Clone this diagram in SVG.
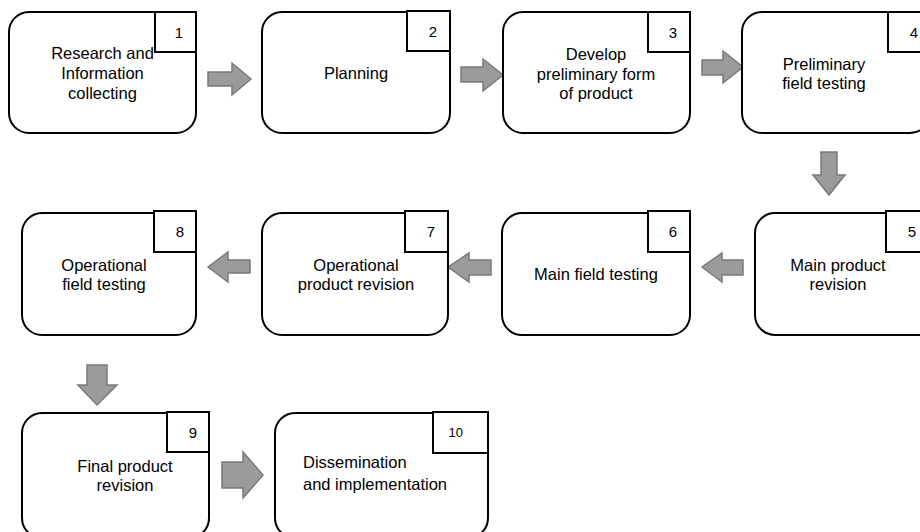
<svg xmlns="http://www.w3.org/2000/svg" width="920" height="532" viewBox="0 0 920 532">
<style>
.box{fill:#fff;stroke:#000;stroke-width:2}
.num{fill:#fff;stroke:#000;stroke-width:2}
.t{font-family:"Liberation Sans",Arial,sans-serif;font-size:16.5px;fill:#000;text-anchor:middle}
.tl{font-family:"Liberation Sans",Arial,sans-serif;font-size:16.5px;fill:#000}
.n{font-family:"Liberation Sans",Arial,sans-serif;font-size:15px;fill:#000;text-anchor:end}
.n2{font-family:"Liberation Sans",Arial,sans-serif;font-size:13px;fill:#000;text-anchor:end}
.arr{fill:#9b9b9b;stroke:#7a7a7a;stroke-width:1.5;stroke-linejoin:miter}
</style>
<rect width="920" height="532" fill="#fff"/>
<g id="connectors">
<path class="arr" d="M208,72 H232 V63 L251,79 L232,95 V86 H208 Z"/>
<path class="arr" d="M461,67 H483 V59 L503,75 L483,91 V82 H461 Z"/>
<path class="arr" d="M702,60 H723 V51 L743,67 L723,83 V75 H702 Z"/>
<path class="arr" d="M821,152 V175 H813 L829,195 L845,175 H837 V152 Z"/>
<path class="arr" d="M743,260 H722 V253 L702,267 L722,282 V275 H743 Z"/>
<path class="arr" d="M491,260 H469 V253 L448,267 L469,282 V275 H491 Z"/>
<path class="arr" d="M250,260 H228 V252 L208,267 L228,282 V273 H250 Z"/>
<path class="arr" d="M87,365 V385 H78 L97,405 L117,385 H107 V365 Z"/>
<path class="arr" d="M222,462 H243 V452 L263,475 L243,498 V488 H222 Z"/>
</g>
<g id="node1">
<rect class="box" x="9" y="12" width="187" height="121" rx="20"/>
<rect class="num" x="155" y="12" width="41" height="40"/>
<text class="n" x="183" y="38">1</text>
<text class="t" x="102.5" y="59">Research and</text>
<text class="t" x="102.5" y="79">Information</text>
<text class="t" x="102.5" y="99">collecting</text>
</g>
<g id="node2">
<rect class="box" x="262" y="12" width="188" height="121" rx="20"/>
<rect class="num" x="407" y="11" width="43" height="40"/>
<text class="n" x="437" y="37">2</text>
<text class="t" x="356" y="79">Planning</text>
</g>
<g id="node3">
<rect class="box" x="503" y="12" width="187" height="121" rx="20"/>
<rect class="num" x="648" y="12" width="42" height="40"/>
<text class="n" x="677" y="38">3</text>
<text class="t" x="596" y="60">Develop</text>
<text class="t" x="596" y="80">preliminary form</text>
<text class="t" x="596" y="99">of product</text>
</g>
<g id="node4">
<rect class="box" x="742" y="12" width="188" height="121" rx="20"/>
<rect class="num" x="888" y="12" width="42" height="40"/>
<text class="n" x="918" y="38">4</text>
<text class="t" x="824" y="70">Preliminary</text>
<text class="t" x="824" y="89">field testing</text>
</g>
<g id="node5">
<rect class="box" x="755" y="213" width="188" height="122" rx="20"/>
<rect class="num" x="886" y="211" width="42" height="41"/>
<text class="n" x="916" y="237">5</text>
<text class="t" x="838" y="271">Main product</text>
<text class="t" x="838" y="290">revision</text>
</g>
<g id="node6">
<rect class="box" x="502" y="213" width="188" height="122" rx="20"/>
<rect class="num" x="648" y="211" width="42" height="41"/>
<text class="n" x="677" y="237">6</text>
<text class="t" x="596" y="280">Main field testing</text>
</g>
<g id="node7">
<rect class="box" x="262" y="213" width="186" height="122" rx="20"/>
<rect class="num" x="405" y="211" width="43" height="41"/>
<text class="n" x="435" y="237">7</text>
<text class="t" x="356" y="271">Operational</text>
<text class="t" x="356" y="290">product revision</text>
</g>
<g id="node8">
<rect class="box" x="22" y="213" width="174" height="122" rx="20"/>
<rect class="num" x="154" y="211" width="42" height="41"/>
<text class="n" x="184" y="237">8</text>
<text class="t" x="104" y="271">Operational</text>
<text class="t" x="104" y="290">field testing</text>
</g>
<g id="node9">
<rect class="box" x="22" y="413" width="187" height="125" rx="20"/>
<rect class="num" x="167" y="412" width="42" height="40"/>
<text class="n" x="197" y="438">9</text>
<text class="t" x="125" y="472">Final product</text>
<text class="t" x="125" y="491">revision</text>
</g>
<g id="node10">
<rect class="box" x="275" y="413" width="213" height="125" rx="20"/>
<rect class="num" x="433" y="412" width="55" height="41"/>
<text class="n2" x="463" y="437">10</text>
<text class="tl" x="303" y="468">Dissemination</text>
<text class="tl" x="303" y="490">and implementation</text>
</g>
</svg>
